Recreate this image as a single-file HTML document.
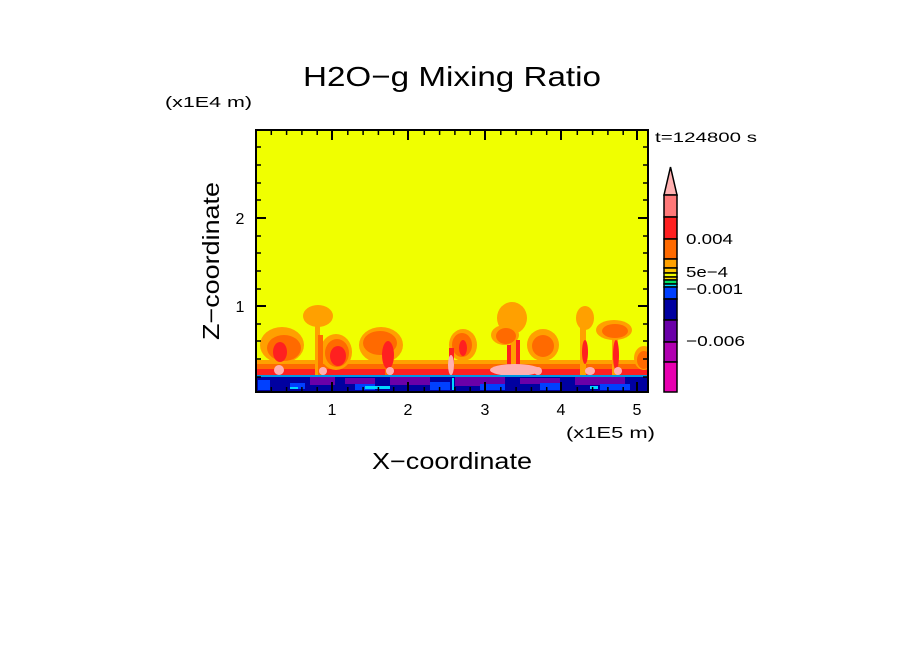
<!DOCTYPE html>
<html><head><meta charset="utf-8"><style>
html,body{margin:0;padding:0;background:#fff;}
svg{display:block;font-family:"Liberation Sans",sans-serif;}
</style></head><body>
<svg width="904" height="654" viewBox="0 0 904 654" xmlns="http://www.w3.org/2000/svg">
<rect width="904" height="654" fill="#fff"/>
<text x="303" y="86" font-size="28" textLength="298" lengthAdjust="spacingAndGlyphs" fill="#000">H2O−g Mixing Ratio</text>
<text x="165" y="107" font-size="15" textLength="87" lengthAdjust="spacingAndGlyphs" fill="#000">(x1E4 m)</text>
<text x="655" y="142" font-size="14" textLength="102" lengthAdjust="spacingAndGlyphs" fill="#000">t=124800 s</text>
<clipPath id="c"><rect x="256" y="130" width="392" height="262"/></clipPath>
<g clip-path="url(#c)">
<rect x="256" y="130" width="392" height="262" fill="#f0ff00"/>
<rect x="256" y="360" width="392" height="15" fill="#ffa000"/>
<rect x="256" y="364" width="392" height="11" fill="#ff6a00"/>
<rect x="256" y="369" width="392" height="7" fill="#ff2020"/>
<g fill="#ffa000">
<ellipse cx="282" cy="345" rx="22" ry="18"/>
<ellipse cx="318" cy="316" rx="15" ry="11"/>
<ellipse cx="336" cy="352" rx="16" ry="18"/>
<ellipse cx="381" cy="345" rx="22" ry="18"/>
<ellipse cx="463" cy="345" rx="14" ry="16"/>
<ellipse cx="512" cy="318" rx="15" ry="16"/>
<ellipse cx="505" cy="335" rx="14" ry="10"/>
<ellipse cx="543" cy="345" rx="16" ry="16"/>
<ellipse cx="585" cy="318" rx="9" ry="12"/>
<ellipse cx="614" cy="330" rx="18" ry="10"/>
<ellipse cx="644" cy="358" rx="10" ry="12"/>
<rect x="315" y="320" width="5" height="55"/>
<rect x="510" y="320" width="6" height="55"/>
<rect x="580" y="320" width="6" height="55"/>
<rect x="612" y="335" width="6" height="40"/>
</g>
<g fill="#ff6a00">
<ellipse cx="284" cy="348" rx="17" ry="13"/>
<ellipse cx="337" cy="353" rx="12" ry="14"/>
<ellipse cx="380" cy="343" rx="17" ry="12"/>
<ellipse cx="462" cy="345" rx="10" ry="12"/>
<ellipse cx="506" cy="336" rx="10" ry="8"/>
<ellipse cx="543" cy="346" rx="11" ry="11"/>
<ellipse cx="615" cy="331" rx="13" ry="7"/>
<ellipse cx="644" cy="360" rx="7" ry="9"/>
<rect x="318" y="335" width="5" height="40"/>
<rect x="385" y="345" width="7" height="30"/>
</g>
<g fill="#ff2020">
<ellipse cx="280" cy="352" rx="7" ry="10"/>
<ellipse cx="338" cy="356" rx="8" ry="10"/>
<ellipse cx="388" cy="355" rx="6" ry="14"/>
<rect x="449" y="348" width="5" height="27"/>
<ellipse cx="463" cy="348" rx="4" ry="8"/>
<rect x="507" y="345" width="4" height="30"/>
<rect x="516" y="340" width="4" height="35"/>
<ellipse cx="585" cy="352" rx="3" ry="12"/>
<ellipse cx="616" cy="355" rx="3" ry="15"/>
</g>
<g fill="#ffb0b0">
<ellipse cx="279" cy="370" rx="5" ry="5"/>
<ellipse cx="323" cy="371" rx="4" ry="4"/>
<ellipse cx="390" cy="371" rx="4" ry="4"/>
<ellipse cx="451" cy="365" rx="3" ry="10"/>
<ellipse cx="515" cy="370" rx="25" ry="6"/>
<ellipse cx="538" cy="371" rx="4" ry="4"/>
<ellipse cx="590" cy="371" rx="5" ry="4"/>
<ellipse cx="618" cy="371" rx="4" ry="4"/>
</g>
<rect x="256" y="375" width="392" height="17" fill="#0000a0"/>
<rect x="256" y="375" width="392" height="2" fill="#00d8ff" opacity="0.7"/>
<g fill="#6a00a8">
<rect x="310" y="377" width="25" height="8"/><rect x="345" y="378" width="30" height="6"/>
<rect x="390" y="377" width="40" height="8"/><rect x="455" y="377" width="50" height="9"/>
<rect x="520" y="378" width="40" height="6"/><rect x="575" y="377" width="50" height="8"/>
</g>
<g fill="#0040ff">
<rect x="258" y="380" width="12" height="10"/><rect x="290" y="383" width="15" height="6"/>
<rect x="355" y="384" width="20" height="6"/><rect x="430" y="382" width="20" height="8"/>
<rect x="480" y="384" width="25" height="6"/><rect x="540" y="383" width="20" height="7"/>
<rect x="600" y="384" width="30" height="6"/>
</g>
<g fill="#00d8ff">
<rect x="365" y="386" width="25" height="3"/><rect x="290" y="387" width="8" height="2"/>
<rect x="452" y="378" width="2" height="12"/><rect x="590" y="386" width="8" height="3"/>
</g>
</g>
<rect x="256" y="130" width="392" height="262" fill="none" stroke="#000" stroke-width="2"/>
<g stroke="#000" stroke-width="1.5">
<path d="M271.3 130v5M286.6 130v5M301.9 130v5M317.2 130v5M347.8 130v5M363.1 130v5M378.4 130v5M393.7 130v5M424.3 130v5M439.6 130v5M454.9 130v5M470.2 130v5M500.8 130v5M516.1 130v5M531.4 130v5M546.7 130v5M577.3 130v5M592.6 130v5M607.9 130v5M623.2 130v5"/>
<path d="M271.3 392v-5M286.6 392v-5M301.9 392v-5M317.2 392v-5M347.8 392v-5M363.1 392v-5M378.4 392v-5M393.7 392v-5M424.3 392v-5M439.6 392v-5M454.9 392v-5M470.2 392v-5M500.8 392v-5M516.1 392v-5M531.4 392v-5M546.7 392v-5M577.3 392v-5M592.6 392v-5M607.9 392v-5M623.2 392v-5"/>
<path d="M332 130v10M408 130v10M485 130v10M561 130v10M637 130v10M332 392v-10M408 392v-10M485 392v-10M561 392v-10M637 392v-10" stroke-width="2"/>
<path d="M256 218h10M256 306h10M648 218h-10M648 306h-10" stroke-width="2"/>
<path d="M256 147h5M256 165h5M256 183h5M256 200h5M256 236h5M256 253h5M256 271h5M256 289h5M256 324h5M256 341h5M256 359h5M256 377h5M648 147h-5M648 165h-5M648 183h-5M648 200h-5M648 236h-5M648 253h-5M648 271h-5M648 289h-5M648 324h-5M648 341h-5M648 359h-5M648 377h-5"/>
</g>
<g font-size="16" fill="#000" text-anchor="middle">
<text x="332" y="415">1</text><text x="408" y="415">2</text><text x="485" y="415">3</text><text x="561" y="415">4</text><text x="637" y="415">5</text>
<text x="240" y="224">2</text><text x="240" y="312">1</text>
</g>
<text x="566" y="438" font-size="16" textLength="89" lengthAdjust="spacingAndGlyphs" fill="#000">(x1E5 m)</text>
<text x="372" y="469" font-size="23" textLength="160" lengthAdjust="spacingAndGlyphs" fill="#000">X−coordinate</text>
<text transform="translate(219,340) rotate(-90)" font-size="23" textLength="158" lengthAdjust="spacingAndGlyphs" fill="#000">Z−coordinate</text>
<g stroke="#000" stroke-width="1.5">
<path d="M664 195 L670.5 167 L677 195 Z" fill="#ffb0b0"/>
<rect x="664" y="195" width="13" height="22" fill="#ff7878"/>
<rect x="664" y="217" width="13" height="22" fill="#ff2020"/>
<rect x="664" y="239" width="13" height="20" fill="#ff6a00"/>
<rect x="664" y="259" width="13" height="9" fill="#ffa000"/>
<rect x="664" y="268" width="13" height="5" fill="#ffc800"/>
<rect x="664" y="273" width="13" height="4" fill="#f0ff00"/>
<rect x="664" y="277" width="13" height="3" fill="#ffd800"/>
<rect x="664" y="280" width="13" height="4" fill="#00e060"/>
<rect x="664" y="284" width="13" height="3" fill="#00d8ff"/>
<rect x="664" y="287" width="13" height="12" fill="#0040ff"/>
<rect x="664" y="299" width="13" height="21" fill="#0000a0"/>
<rect x="664" y="320" width="13" height="22" fill="#6a00a8"/>
<rect x="664" y="342" width="13" height="20" fill="#b000b0"/>
<rect x="664" y="362" width="13" height="30" fill="#e800b0"/>
</g>
<g font-size="15" fill="#000">
<text x="686" y="244" textLength="47" lengthAdjust="spacingAndGlyphs">0.004</text>
<text x="686" y="277" textLength="42" lengthAdjust="spacingAndGlyphs">5e−4</text>
<text x="686" y="294" textLength="57" lengthAdjust="spacingAndGlyphs">−0.001</text>
<text x="686" y="346" textLength="59" lengthAdjust="spacingAndGlyphs">−0.006</text>
</g>
</svg>
</body></html>
